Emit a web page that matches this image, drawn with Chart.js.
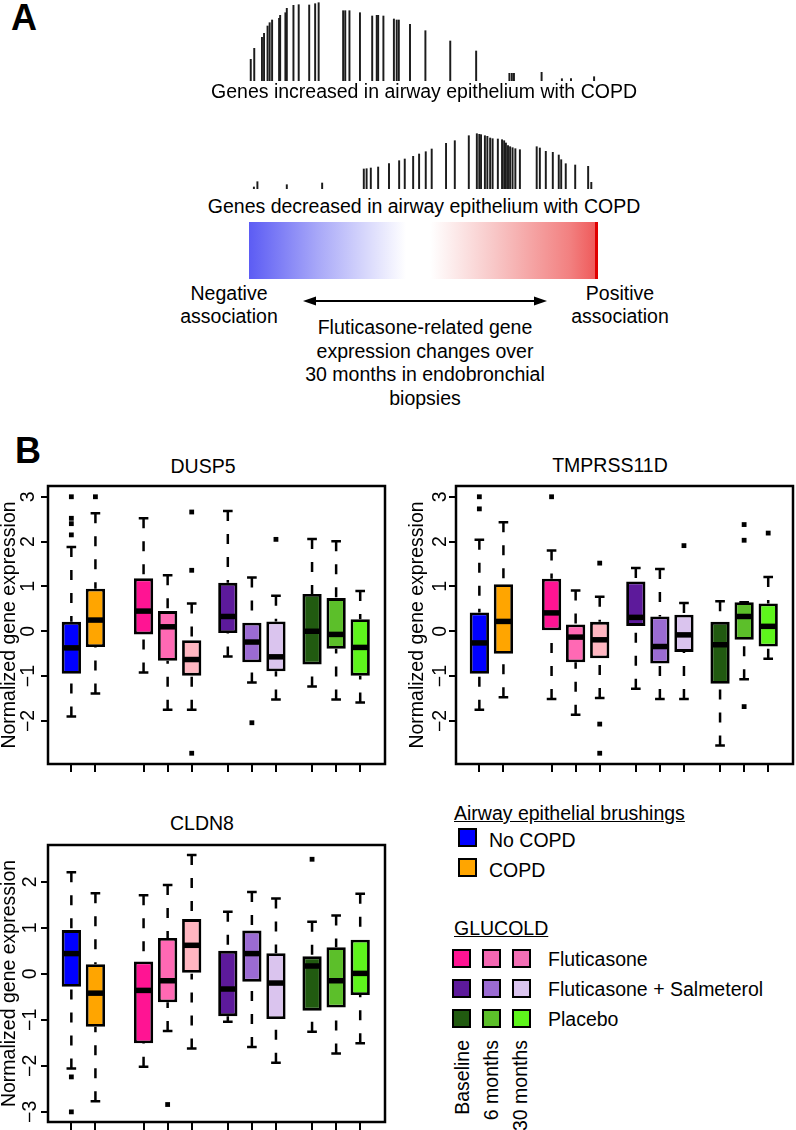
<!DOCTYPE html>
<html>
<head>
<meta charset="utf-8">
<script src="https://cdn.jsdelivr.net/npm/chart.js@4.4.1/dist/chart.umd.min.js"></script>
<style>
  html, body { margin: 0; padding: 0; width: 796px; height: 1130px; overflow: hidden; background: #fff; }
  body { position: relative; font-family: "Liberation Sans", Arial, Helvetica, sans-serif; color: #000; }
  canvas { position: absolute; }
  .txt { position: absolute; font-size: 19.5px; line-height: 23px; white-space: nowrap; }
  .ctr { transform: translateX(-50%); text-align: center; }
  .big { position: absolute; font-size: 36px; line-height: 36px; font-weight: bold; }
  .sq { position: absolute; width: 15px; height: 15px; border: 2.6px solid #000; }
  .vert { position: absolute; font-size: 19.5px; line-height: 20px; width: 20px; white-space: nowrap;
          writing-mode: vertical-rl; transform: rotate(180deg); }
  .grad { position: absolute; left: 249px; top: 222px; width: 349px; height: 57px;
          background: linear-gradient(to right, #5c5cf4 0%, #a9a9f8 20%, #ffffff 45%, #ffffff 52%, #f8c8c8 70%, #f28080 92%, #ef5c5c 99%); }
  .gradEnd { position: absolute; left: 595px; top: 222px; width: 3px; height: 57px; background: #e00000; }
</style>
</head>
<body>

<div class="big" style="left:11px; top:0px;">A</div>
<div class="big" style="left:15px; top:433px;">B</div>

<canvas id="up-barcode" width="350" height="80" style="left:249px; top:1px;"></canvas>
<div class="txt ctr" style="left:424px; top:80px;">Genes increased in airway epithelium with COPD</div>

<canvas id="down-barcode" width="350" height="60" style="left:249px; top:129px;"></canvas>
<div class="txt ctr" style="left:424px; top:195px;">Genes decreased in airway epithelium with COPD</div>

<div class="grad"></div>
<div class="gradEnd"></div>

<svg style="position:absolute; left:295px; top:292px;" width="260" height="18">
  <line x1="18" y1="9" x2="242" y2="9" stroke="#000" stroke-width="2"/>
  <polygon points="8,9 21,4.5 21,13.5" fill="#000"/>
  <polygon points="252,9 239,4.5 239,13.5" fill="#000"/>
</svg>

<div class="txt ctr" style="left:229px; top:282px;">Negative<br>association</div>
<div class="txt ctr" style="left:620px; top:282px;">Positive<br>association</div>
<div class="txt ctr" style="left:425px; top:316px; line-height:23.7px;">Fluticasone-related gene<br>expression changes over<br>30 months in endobronchial<br>biopsies</div>

<div class="txt ctr" style="left:203px; top:455px;">DUSP5</div>
<div class="txt ctr" style="left:610px; top:454px;">TMPRSS11D</div>
<div class="txt ctr" style="left:202px; top:812px;">CLDN8</div>

<canvas id="dusp5-chart" width="395" height="298" style="left:0px; top:476px;"></canvas>
<canvas id="tmprss11d-chart" width="395" height="298" style="left:408px; top:476px;"></canvas>
<canvas id="cldn8-chart" width="395" height="297" style="left:0px; top:835px;"></canvas>

<div id="legend"></div>

<script>
  'use strict';

  const FONT = '"Liberation Sans", Arial, Helvetica, sans-serif';
  Chart.defaults.font.family = FONT;
  Chart.defaults.color = '#000';

  // Panel A: leading-edge barcode, rank (% of ranked list) and running score
  const upRanks = [0.5, 1.5, 3.7, 4.3, 5.3, 5.9, 6.6, 8.6, 8.9, 10.4, 10.8, 12.7, 14.2, 17.2, 18.9, 19.9,
    26.9, 27.5, 28.7, 31.7, 35.2, 36.5, 36.9, 38.4, 41.4, 42.2, 42.8, 46.0, 50.4, 57.5, 64.9,
    74.4, 75.1, 75.7, 83.6, 89.4, 92.0, 98.6];
  const upScores = [21.7, 32.7, 43.7, 47.7, 55, 58.3, 61, 62.7, 65.7, 68.3, 72.7, 75.7, 76.3, 76, 77.3, 78.3,
    70.3, 70.3, 70.3, 68.3, 65, 65.7, 65.7, 65, 62, 61, 61, 56.7, 50.3, 40, 30,
    7.7, 7.7, 7.7, 8.7, 2.3, 2.3, 4.3];

  const downRanks = [1.4, 2.4, 10.8, 20.9, 32.8, 33.6, 34.8, 36.9, 40.0, 42.9, 44.5, 46.9, 48.6, 50.5, 52.2,
    56.3, 58.8, 62.8, 65.1, 65.8, 66.3, 67.4, 68.1, 68.9, 69.6, 71.1, 72.3, 72.9, 73.4, 74.0,
    74.6, 75.3, 76.1, 77.4, 82.2, 83.1, 84.8, 86.8, 88.5, 89.2, 90.5, 93.2, 96.9, 97.8];
  const downScores = [2, 7.3, 4.3, 6, 20, 20.3, 21, 22, 25.3, 28.3, 30, 32.7, 35, 37.3, 40,
    45.7, 48.3, 53.3, 55.3, 54.7, 54.3, 53.3, 52.7, 51, 50.3, 50, 49.3, 48.3, 46, 43.3,
    42.3, 41.3, 40.3, 39.3, 42.3, 41, 37.7, 36.7, 34, 29.3, 25.3, 24, 22.7, 6.7];

  // Panel B: groups (brushings: No COPD, COPD; GLUCOLD: 3 arms x baseline/6/30 months)
  const boxPositions = [1, 2, 4, 5, 6, 7.5, 8.5, 9.5, 11, 12, 13];
  const boxColors = ['#0000ff', '#ffa500', '#ff1493', '#ff69b4', '#ffb6c1',
    '#5d1a9b', '#9b6bd2', '#dac4ee', '#215a10', '#5cbf2a', '#5ef51c'];
  const yTicksUpper = [-2, -1, 0, 1, 2, 3];
  const yTicksCldn8 = [-3, -2, -1, 0, 1, 2];

  // DUSP5
  const dusp5Low = [-1.90, -1.39, -0.92, -1.75, -1.75, -0.56, -1.14, -1.52, -1.23, -1.52, -1.59];
  const dusp5Q1 = [-0.95, -0.35, -0.07, -0.66, -0.99, -0.04, -0.69, -0.89, -0.74, -0.39, -0.99];
  const dusp5Median = [-0.37, 0.25, 0.45, 0.10, -0.63, 0.33, -0.24, -0.57, 0.00, -0.07, -0.36];
  const dusp5Q3 = [0.21, 0.95, 1.18, 0.45, -0.20, 1.08, 0.19, 0.22, 0.83, 0.74, 0.27];
  const dusp5High = [1.88, 2.63, 2.52, 1.25, 0.62, 2.68, 1.20, 0.79, 2.06, 2.01, 0.90];
  const dusp5Outliers = [[0, 3.0], [0, 2.52], [0, 2.4], [0, 2.15], [1, 3.0],
    [4, 2.66], [4, 1.36], [4, -2.72], [6, -2.04], [7, 2.05]];

  // TMPRSS11D
  const tmprssLow = [-1.75, -1.47, -1.51, -1.86, -1.49, -1.28, -1.51, -1.51, -2.55, -1.07, -0.61];
  const tmprssQ1 = [-0.95, -0.50, 0.00, -0.69, -0.60, 0.12, -0.72, -0.46, -1.17, -0.19, -0.34];
  const tmprssMedian = [-0.26, 0.22, 0.41, -0.13, -0.19, 0.31, -0.34, -0.08, -0.30, 0.33, 0.11];
  const tmprssQ3 = [0.42, 1.05, 1.17, 0.15, 0.21, 1.11, 0.33, 0.37, 0.21, 0.65, 0.62];
  const tmprssHigh = [2.04, 2.43, 1.80, 0.91, 0.77, 1.41, 1.39, 0.63, 0.67, 0.65, 1.21];
  const tmprssOutliers = [[0, 3.0], [0, 2.73], [2, 3.0], [4, 1.52], [4, -2.07], [4, -2.72],
    [7, 1.91], [9, 2.38], [9, 2.03], [9, -1.68], [10, 2.19]];

  // CLDN8
  const cldn8Low = [-2.06, -2.77, -2.02, -1.24, -1.62, -1.04, -1.59, -1.93, -1.26, -1.73, -1.51];
  const cldn8Q1 = [-0.28, -1.15, -1.51, -0.62, 0.00, -0.92, -0.17, -0.98, -0.80, -0.73, -0.46];
  const cldn8Median = [0.44, -0.42, -0.36, -0.15, 0.62, -0.33, 0.44, -0.20, 0.17, -0.15, 0.01];
  const cldn8Q3 = [0.95, 0.21, 0.27, 0.78, 1.19, 0.50, 0.94, 0.45, 0.38, 0.58, 0.74];
  const cldn8High = [2.21, 1.75, 1.71, 1.93, 2.58, 1.35, 1.78, 1.64, 1.13, 1.27, 1.74];
  const cldn8Outliers = [[0, -2.24], [0, -3.0], [3, -2.84], [8, 2.49]];

  // Legend
  const brushingLabels = ['No COPD', 'COPD'];
  const brushingColors = ['#0000ff', '#ffa500'];
  const glucoldArms = ['Fluticasone', 'Fluticasone + Salmeterol', 'Placebo'];
  const glucoldColors = [
    ['#ff1493', '#f467b2', '#f36fb5'],
    ['#5d1a9b', '#9b6bd2', '#dac4ee'],
    ['#215a10', '#5cbf2a', '#5ef51c']
  ];
  const timepointLabels = ['Baseline', '6 months', '30 months'];

  /**
   * Barcode of leading-edge genes.
   */
  function renderBarcode(canvasId, ranks, scores, yMax) {
    const canvas = document.getElementById(canvasId);
    if (!canvas) return;
    new Chart(canvas.getContext('2d'), {
      type: 'bar',
      data: {
        datasets: [{
          data: ranks.map((r, i) => ({ x: r, y: scores[i] })),
          backgroundColor: '#1c1c1c',
          barThickness: 1.3
        }]
      },
      options: {
        responsive: false,
        animation: false,
        events: [],
        layout: { padding: 0 },
        plugins: { legend: { display: false }, tooltip: { enabled: false } },
        scales: {
          x: { type: 'linear', min: 0, max: 100, offset: false, grid: { offset: false }, display: false },
          y: { min: 0, max: yMax, display: false }
        }
      }
    });
  }

  /**
   * Whiskers, staples and medians, drawn through the chart scales.
   */
  function boxParts(stats) {
    return {
      id: 'boxParts',
      afterDatasetsDraw(chart) {
        const { ctx, scales: { x, y } } = chart;
        const boxHalf = x.getPixelForValue(1.4) - x.getPixelForValue(1);
        const stapleHalf = boxHalf / 2;
        ctx.save();
        ctx.strokeStyle = '#000';
        ctx.lineCap = 'butt';
        boxPositions.forEach(function (pos, i) {
          const px = x.getPixelForValue(pos);
          const hi = y.getPixelForValue(stats.high[i]);
          const lo = y.getPixelForValue(stats.low[i]);
          const q1 = y.getPixelForValue(stats.q1[i]);
          const q3 = y.getPixelForValue(stats.q3[i]);
          const med = y.getPixelForValue(stats.median[i]);

          // dashed whiskers, from the end towards the box
          ctx.lineWidth = 2.5;
          ctx.setLineDash([10, 13]);
          ctx.beginPath();
          ctx.moveTo(px, hi);
          ctx.lineTo(px, q3);
          ctx.moveTo(px, lo);
          ctx.lineTo(px, q1);
          ctx.stroke();
          ctx.setLineDash([]);

          // staples
          ctx.beginPath();
          ctx.moveTo(px - stapleHalf, hi);
          ctx.lineTo(px + stapleHalf, hi);
          ctx.moveTo(px - stapleHalf, lo);
          ctx.lineTo(px + stapleHalf, lo);
          ctx.stroke();

          // median
          ctx.lineWidth = 5.5;
          ctx.beginPath();
          ctx.moveTo(px - boxHalf + 1, med);
          ctx.lineTo(px + boxHalf - 1, med);
          ctx.stroke();
        });
        ctx.restore();
      }
    };
  }

  /**
   * Y tick labels written along the axis (rotated), as in R.
   */
  function rotatedTicks(offset) {
    return {
      id: 'rotatedTicks',
      afterDraw(chart) {
        const { ctx, chartArea, scales: { y } } = chart;
        ctx.save();
        ctx.fillStyle = '#000';
        ctx.font = '19.5px ' + FONT;
        ctx.textAlign = 'center';
        ctx.textBaseline = 'middle';
        y.ticks.forEach(function (t) {
          ctx.save();
          ctx.translate(chartArea.left - offset, y.getPixelForValue(t.value));
          ctx.rotate(-Math.PI / 2);
          ctx.fillText(String(t.value).replace('-', '\u2212'), 0, 0);
          ctx.restore();
        });
        ctx.restore();
      }
    };
  }

  const frame = {
    id: 'frame',
    afterDraw(chart) {
      const { ctx, chartArea: a } = chart;
      ctx.save();
      ctx.strokeStyle = '#000';
      ctx.lineWidth = 2.5;
      ctx.strokeRect(a.left, a.top, a.right - a.left, a.bottom - a.top);
      ctx.restore();
    }
  };

  /**
   * Box plot for one gene.
   */
  function renderBoxChart(canvasId, stats, yMin, yMax, yTicks, labelOffset) {
    const canvas = document.getElementById(canvasId);
    if (!canvas) return;
    const boxes = boxPositions.map((p, i) => ({ x: p, y: [stats.q1[i], stats.q3[i]] }));
    const points = stats.outliers.map(o => ({ x: boxPositions[o[0]], y: o[1] }));

    new Chart(canvas.getContext('2d'), {
      type: 'bar',
      data: {
        datasets: [{
          type: 'bar',
          data: boxes,
          backgroundColor: boxColors,
          borderColor: '#000',
          borderWidth: 2.8,
          borderSkipped: false,
          categoryPercentage: 1,
          barPercentage: 0.8
        }, {
          type: 'scatter',
          data: points,
          pointStyle: 'rect',
          pointRadius: 3.4,
          backgroundColor: '#000',
          borderWidth: 0
        }]
      },
      options: {
        responsive: false,
        animation: false,
        events: [],
        layout: { padding: { top: 10, right: 10, left: 0, bottom: 0 } },
        plugins: { legend: { display: false }, tooltip: { enabled: false } },
        scales: {
          x: {
            type: 'linear',
            min: 0.03,
            max: 14.03,
            offset: false,
            afterBuildTicks: function (s) { s.ticks = boxPositions.map(v => ({ value: v })); },
            afterFit: function (s) { s.height = 10; },
            ticks: { display: false },
            grid: { offset: false, drawOnChartArea: false, drawTicks: true, tickLength: 8, color: '#000', lineWidth: 2 },
            border: { display: false }
          },
          y: {
            min: yMin,
            max: yMax,
            afterBuildTicks: function (s) { s.ticks = yTicks.map(v => ({ value: v })); },
            afterFit: function (s) { s.width = 48; },
            ticks: { display: false },
            grid: { drawOnChartArea: false, drawTicks: true, tickLength: 7, color: '#000', lineWidth: 2 },
            border: { display: false },
            title: {
              display: true,
              text: 'Normalized gene expression',
              color: '#000',
              font: { size: 19.5, lineHeight: 1 },
              padding: 0
            }
          }
        }
      },
      plugins: [boxParts(stats), rotatedTicks(labelOffset), frame]
    });
  }

  function buildLegend() {
    const root = document.getElementById('legend');
    let html = '<div class="txt" style="left:454px; top:802px; text-decoration:underline;">Airway epithelial brushings</div>';
    brushingLabels.forEach(function (label, i) {
      const top = 828 + i * 30;
      html += '<div class="sq" style="left:458px; top:' + top + 'px; background:' + brushingColors[i] + ';"></div>';
      html += '<div class="txt" style="left:489px; top:' + (top + 1) + 'px;">' + label + '</div>';
    });
    html += '<div class="txt" style="left:454px; top:917px; text-decoration:underline;">GLUCOLD</div>';
    glucoldArms.forEach(function (arm, r) {
      const top = 949 + r * 30;
      glucoldColors[r].forEach(function (c, k) {
        html += '<div class="sq" style="left:' + (452 + k * 30) + 'px; top:' + top + 'px; background:' + c + ';"></div>';
      });
      html += '<div class="txt" style="left:548px; top:' + (top - 1.5) + 'px;">' + arm + '</div>';
    });
    timepointLabels.forEach(function (label, k) {
      html += '<div class="vert" style="left:' + (452 + k * 29.2) + 'px; top:1040px;">' + label + '</div>';
    });
    root.innerHTML = html;
  }

  renderBarcode('up-barcode', upRanks, upScores, 80);
  renderBarcode('down-barcode', downRanks, downScores, 60);

  renderBoxChart('dusp5-chart', {
    low: dusp5Low, q1: dusp5Q1, median: dusp5Median, q3: dusp5Q3, high: dusp5High, outliers: dusp5Outliers
  }, -2.96, 3.24, yTicksUpper, 19);

  renderBoxChart('tmprss11d-chart', {
    low: tmprssLow, q1: tmprssQ1, median: tmprssMedian, q3: tmprssQ3, high: tmprssHigh, outliers: tmprssOutliers
  }, -2.96, 3.24, yTicksUpper, 15);

  renderBoxChart('cldn8-chart', {
    low: cldn8Low, q1: cldn8Q1, median: cldn8Median, q3: cldn8Q3, high: cldn8High, outliers: cldn8Outliers
  }, -3.22, 2.80, yTicksCldn8, 17);

  buildLegend();
</script>
</body>
</html>
